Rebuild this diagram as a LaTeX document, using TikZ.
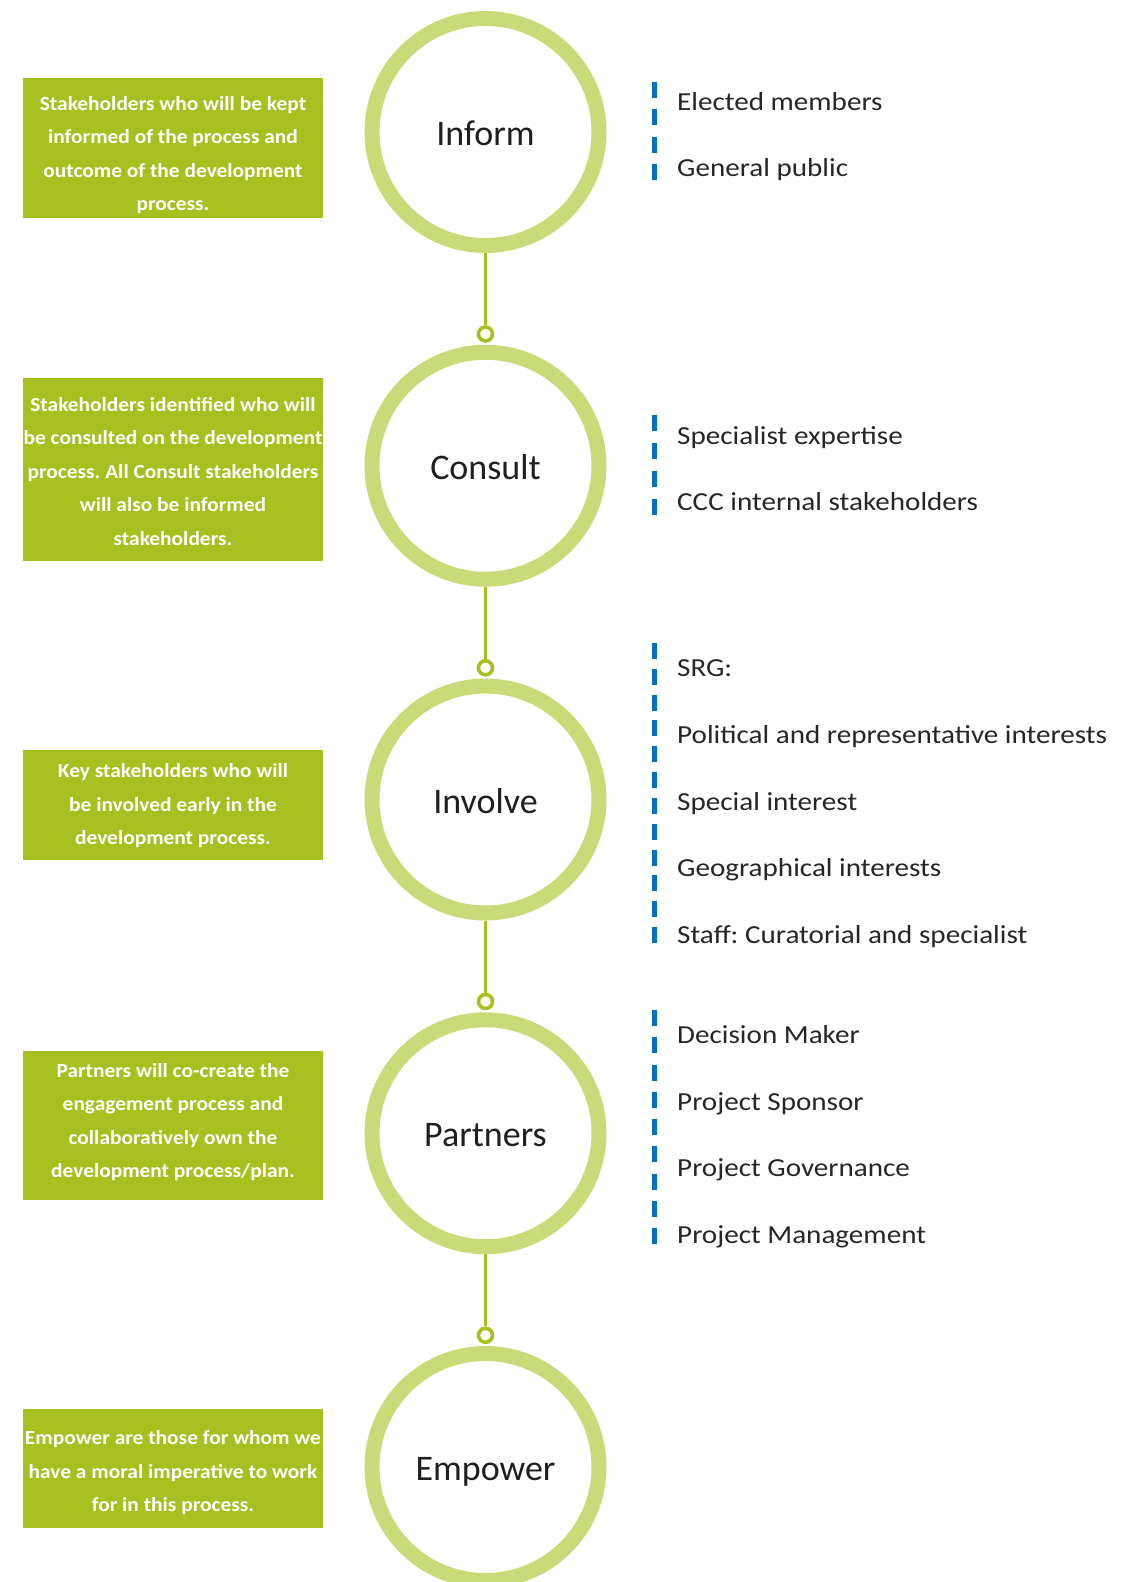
\documentclass[tikz,border=0pt]{standalone}
\usepackage{fontspec}
\setmainfont{Carlito}
\newfontfamily\itemfont[FakeStretch=1.12]{Carlito}
\newfontfamily\boxfont[FakeStretch=1.07]{Carlito}
\frenchspacing
\definecolor{ringgreen}{RGB}{201,218,121}
\definecolor{boxgreen}{RGB}{168,192,31}
\definecolor{linegreen}{RGB}{166,193,30}
\definecolor{dashblue}{RGB}{0,112,192}
\definecolor{itemgray}{RGB}{38,38,38}
\begin{document}
\begin{tikzpicture}[x=1pt,y=-1pt,
  ring/.style={circle,draw=ringgreen,line width=15pt,fill=white,minimum size=227pt,inner sep=0pt,
    font=\fontsize{36}{40}\selectfont,text=black!88,text height=27pt,text depth=0pt},
  knob/.style={circle,draw=linegreen,line width=3.6pt,fill=white,minimum size=14pt,inner sep=0pt},
  link/.style={draw=linegreen,line width=3.6pt},
  greenbox/.style={rectangle,fill=boxgreen,draw=none,minimum width=300pt,inner sep=0pt},
  boxtext/.style={align=center,text=white,font=\frenchspacing\boxfont\bfseries\fontsize{20}{33.5}\selectfont,inner sep=0pt},
  item/.style={anchor=base west,text=itemgray,font=\frenchspacing\itemfont\fontsize{26}{30}\selectfont,inner sep=0pt},
  bluedash/.style={draw=dashblue,line width=5.5pt}
]
\useasboundingbox (0,0) rectangle (1145,1582);
\clip (0,0) rectangle (1145,1582);

% rings
\node[ring] (c1) at (485.5,132) {Inform};
\node[ring] (c2) at (485.5,465.75) {Consult};
\node[ring] (c3) at (485.5,799.5) {Involve};
\node[ring] (c4) at (485.5,1133.25) {Partners};
\node[ring] (c5) at (485.5,1467) {Empower};

% knobs
\node[knob] (k1) at (485.5,334) {};
\node[knob] (k2) at (485.5,667.75) {};
\node[knob] (k3) at (485.5,1001.5) {};
\node[knob] (k4) at (485.5,1335.25) {};

\draw[link] (c1.south) -- (k1.north);
\draw[link] (c2.south) -- (k2.north);
\draw[link] (c3.south) -- (k3.north);
\draw[link] (c4.south) -- (k4.north);

% green boxes
\node[greenbox,minimum height=140pt] (b1) at (173,148) {};
\node[boxtext] (t1) at (173,155) {Stakeholders who will be kept\\informed of the process and\\outcome of the development\\process.};
\node[greenbox,minimum height=183pt] (b2) at (173,469.5) {};
\node[boxtext] (t2) at (173,471.5) {Stakeholders identified who will\\be consulted on the development\\process. All Consult stakeholders\\will also be informed\\stakeholders.};
\node[greenbox,minimum height=110pt] (b3) at (173,805) {};
\node[boxtext] (t3) at (173,806) {Key stakeholders who will\\be involved early in the\\development process.};
\node[greenbox,minimum height=149pt] (b4) at (173,1125.5) {};
\node[boxtext] (t4) at (173,1122) {Partners will co-create the\\engagement process and\\collaboratively own the\\development process/plan.};
\node[greenbox,minimum height=119pt] (b5) at (173,1468.5) {};
\node[boxtext] (t5) at (173,1473) {Empower are those for whom we\\have a moral imperative to work\\for in this process.};

% blue dashed markers
\coordinate (d1a) at (654.5,82);   \coordinate (d1b) at (654.5,180);
\coordinate (d2a) at (654.5,415);  \coordinate (d2b) at (654.5,515);
\coordinate (d3a) at (654.5,643);  \coordinate (d3b) at (654.5,943);
\coordinate (d4a) at (654.5,1010); \coordinate (d4b) at (654.5,1244);
\draw[bluedash,dash pattern=on 16pt off 11.33pt] (d1a) -- (d1b);
\draw[bluedash,dash pattern=on 16pt off 12pt] (d2a) -- (d2b);
\draw[bluedash,dash pattern=on 16pt off 9.82pt] (d3a) -- (d3b);
\draw[bluedash,dash pattern=on 16pt off 11.25pt] (d4a) -- (d4b);

% items
\node[item] (i11) at (677,110) {Elected members};
\node[item] (i12) at (677,176.5) {General public};
\node[item] (i21) at (677,444) {Specialist expertise};
\node[item] (i22) at (677,510.5) {CCC internal stakeholders};
\node[item] (i31) at (677,676.5) {SRG:};
\node[item] (i32) at (677,743) {Political and representative interests};
\node[item] (i33) at (677,810) {Special interest};
\node[item] (i34) at (677,876.5) {Geographical interests};
\node[item] (i35) at (677,943) {Staff: Curatorial and specialist};
\node[item] (i41) at (677,1043) {Decision Maker};
\node[item] (i42) at (677,1110) {Project Sponsor};
\node[item] (i43) at (677,1176) {Project Governance};
\node[item] (i44) at (677,1243) {Project Management};
\end{tikzpicture}
\end{document}
